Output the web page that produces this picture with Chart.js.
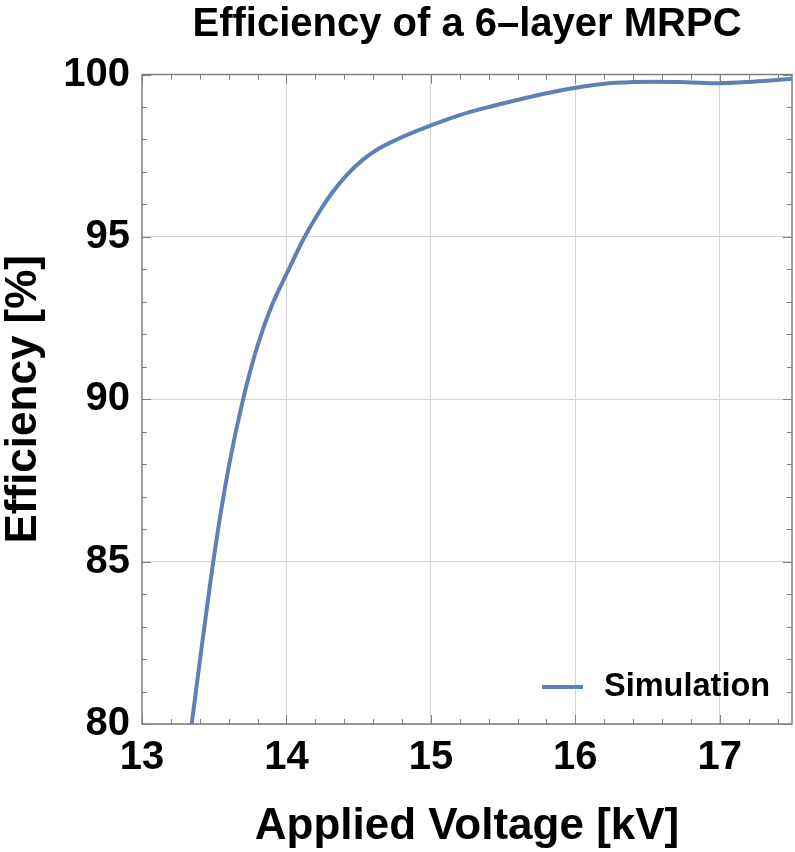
<!DOCTYPE html>
<html><head><meta charset="utf-8">
<script src="https://cdn.jsdelivr.net/npm/chart.js@4.4.0/dist/chart.umd.min.js"></script>
<style>html,body{margin:0;padding:0;background:#fff;}#wrap{width:795px;height:852px;}</style>
</head><body><div id="wrap"><canvas id="c" width="795" height="852"></canvas></div>
<script>
const chartTitle = 'Efficiency of a 6–layer MRPC';
const xTitle = 'Applied Voltage [kV]';
const yTitle = 'Efficiency [%]';
const seriesName = 'Simulation';
const voltage = [13.344, 13.42, 13.51, 13.60, 13.70, 13.80, 13.90, 14.0, 14.12, 14.22, 14.32, 14.42, 14.53, 14.64, 14.76, 15.0, 15.2, 15.4, 15.62, 15.85, 16.0, 16.19, 16.43, 16.54, 16.77, 17.0, 17.23, 17.5];
const efficiency = [80.0, 82.6, 85.5, 87.9, 90.0, 91.65, 92.9, 93.85, 94.95, 95.72, 96.38, 96.92, 97.38, 97.72, 97.99, 98.43, 98.75, 99.0, 99.24, 99.47, 99.59, 99.71, 99.77, 99.78, 99.76, 99.73, 99.78, 99.87];
const xTickLabels = [13, 14, 15, 16, 17];
const yTickLabels = [80, 85, 90, 95, 100];
const xRange = [13, 17.5];
const yRange = [80, 100];
const xMinorStep = 0.2;
const yMinorStep = 1;

const FONT = "'Liberation Sans', Arial, Helvetica, sans-serif";
const LINE_COLOR = '#5E81B5';
const FRAME_COLOR = '#7f7f7f';

const framePlugin = {
  id: 'frameTicks',
  afterDraw(chart) {
    const ctx = chart.ctx, ca = chart.chartArea;
    const xs = chart.scales.x, ys = chart.scales.y;
    ctx.save();
    ctx.strokeStyle = FRAME_COLOR;
    ctx.lineWidth = 1;
    const nX = Math.round((xRange[1] - xRange[0]) / xMinorStep);
    for (let i = 0; i <= nX; i++) {
      const v = xRange[0] + i * xMinorStep;
      const major = Math.abs(v - Math.round(v)) < 1e-6;
      const len = major ? 9 : 5;
      const px = Math.round(xs.getPixelForValue(v)) + 0.5;
      ctx.beginPath();
      ctx.moveTo(px, ca.bottom); ctx.lineTo(px, ca.bottom - len);
      ctx.moveTo(px, ca.top); ctx.lineTo(px, ca.top + len);
      ctx.stroke();
    }
    const nY = Math.round((yRange[1] - yRange[0]) / yMinorStep);
    for (let i = 0; i <= nY; i++) {
      const v = yRange[0] + i * yMinorStep;
      const major = (v % 5) === 0;
      const len = major ? 9 : 5;
      const py = Math.round(ys.getPixelForValue(v)) + 0.5;
      ctx.beginPath();
      ctx.moveTo(ca.left, py); ctx.lineTo(ca.left + len, py);
      ctx.moveTo(ca.right, py); ctx.lineTo(ca.right - len, py);
      ctx.stroke();
    }
    ctx.lineWidth = 1.5;
    ctx.strokeRect(ca.left, ca.top, ca.right - ca.left, ca.bottom - ca.top);
    const ds = chart.data.datasets[0];
    const ly = ca.bottom - 37;
    ctx.strokeStyle = ds.borderColor;
    ctx.lineWidth = 4;
    ctx.beginPath();
    ctx.moveTo(ca.right - 250, ly); ctx.lineTo(ca.right - 209, ly);
    ctx.stroke();
    ctx.fillStyle = '#000';
    ctx.font = 'bold 32.5px ' + FONT;
    ctx.textBaseline = 'middle';
    ctx.textAlign = 'left';
    ctx.fillText(ds.label, ca.right - 188, ly);
    ctx.restore();
  }
};

new Chart(document.getElementById('c'), {
  type: 'line',
  data: {
    datasets: [{
      label: seriesName,
      data: voltage.map((v, i) => ({ x: v, y: efficiency[i] })),
      borderColor: LINE_COLOR,
      backgroundColor: LINE_COLOR,
      borderWidth: 4,
      pointRadius: 0,
      cubicInterpolationMode: 'monotone',
      fill: false
    }]
  },
  options: {
    responsive: false,
    animation: false,
    devicePixelRatio: 1,
    layout: { padding: { left: 0, right: 3, top: 0, bottom: 0 } },
    plugins: {
      legend: { display: false },
      tooltip: { enabled: false },
      title: {
        display: true,
        fullSize: false,
        text: chartTitle,
        color: '#000',
        font: { family: FONT, size: 40, weight: 'bold', lineHeight: 1.2 },
        padding: { top: 1, bottom: 25.5 }
      }
    },
    scales: {
      x: {
        type: 'linear',
        min: xRange[0], max: xRange[1],
        afterBuildTicks: (s) => { s.ticks = xTickLabels.map(v => ({ value: v })); },
        afterFit: (s) => { s.height = 128; },
        grid: { color: (c) => (c.tick && c.tick.value === xRange[0]) ? 'rgba(0,0,0,0)' : '#d4d4d4', lineWidth: 1, drawTicks: false },
        border: { display: false },
        ticks: { color: '#000', padding: 10, maxRotation: 0, font: { family: FONT, size: 40, weight: 'bold' } },
        title: { display: true, text: xTitle, color: '#000', padding: { top: 0, bottom: 3 }, font: { family: FONT, size: 44, weight: 'bold', lineHeight: 1.0 } }
      },
      y: {
        type: 'linear',
        min: yRange[0], max: yRange[1],
        afterBuildTicks: (s) => { s.ticks = yTickLabels.map(v => ({ value: v })); },
        afterFit: (s) => { s.width = 142; },
        grid: { color: '#d4d4d4', lineWidth: 1, drawTicks: false },
        border: { display: false },
        ticks: { color: '#000', padding: 12, font: { family: FONT, size: 40, weight: 'bold' } },
        title: { display: true, text: yTitle, color: '#000', padding: { top: 2, bottom: 0 }, font: { family: FONT, size: 44, weight: 'bold', lineHeight: 1.0 } }
      }
    }
  },
  plugins: [framePlugin]
});
</script>
</body></html>
